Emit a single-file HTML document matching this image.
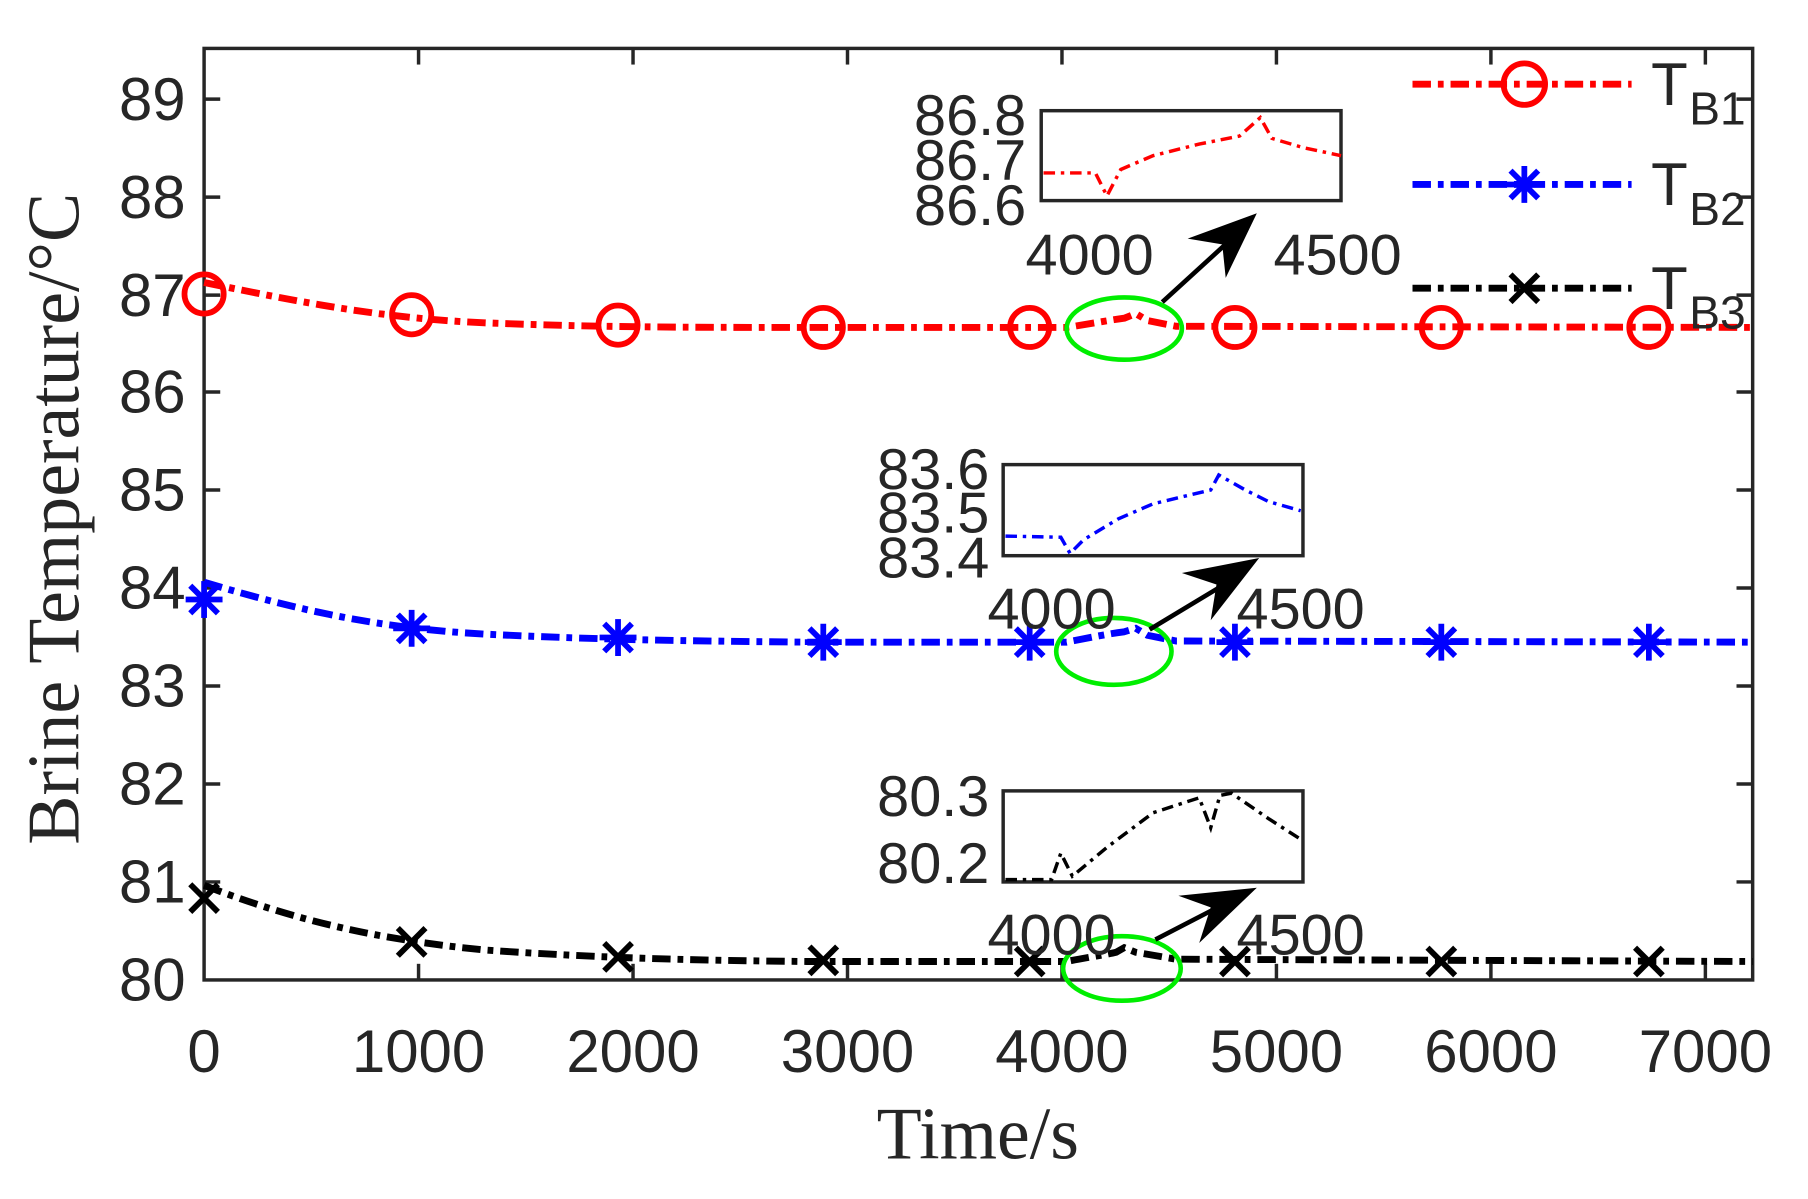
<!DOCTYPE html>
<html><head><meta charset="utf-8"><style>
html,body{margin:0;padding:0;background:#fff;}
svg{display:block;}
text{font-family:"Liberation Sans",sans-serif;fill:#262626;}
.s{font-family:"Liberation Serif",serif;}
</style></head><body>
<svg width="1808" height="1199" viewBox="0 0 1568 1040" preserveAspectRatio="none" xmlns="http://www.w3.org/2000/svg">
<rect width="1568" height="1040" fill="#fff"/>
<rect x="177" y="42" width="1343" height="808" fill="none" stroke="#262626" stroke-width="3"/>
<g stroke="#262626" stroke-width="3">
<line x1="363" y1="850" x2="363" y2="836"/><line x1="549" y1="850" x2="549" y2="836"/><line x1="735" y1="850" x2="735" y2="836"/><line x1="921" y1="850" x2="921" y2="836"/><line x1="1107" y1="850" x2="1107" y2="836"/><line x1="1293" y1="850" x2="1293" y2="836"/><line x1="1479" y1="850" x2="1479" y2="836"/>
<line x1="363" y1="42" x2="363" y2="56"/><line x1="549" y1="42" x2="549" y2="56"/><line x1="735" y1="42" x2="735" y2="56"/><line x1="921" y1="42" x2="921" y2="56"/><line x1="1107" y1="42" x2="1107" y2="56"/><line x1="1293" y1="42" x2="1293" y2="56"/><line x1="1479" y1="42" x2="1479" y2="56"/>
<line x1="177" y1="86" x2="191" y2="86"/><line x1="177" y1="171" x2="191" y2="171"/><line x1="177" y1="256" x2="191" y2="256"/><line x1="177" y1="340" x2="191" y2="340"/><line x1="177" y1="425" x2="191" y2="425"/><line x1="177" y1="510" x2="191" y2="510"/><line x1="177" y1="595" x2="191" y2="595"/><line x1="177" y1="680" x2="191" y2="680"/><line x1="177" y1="765" x2="191" y2="765"/>
<line x1="1520" y1="86" x2="1506" y2="86"/><line x1="1520" y1="171" x2="1506" y2="171"/><line x1="1520" y1="256" x2="1506" y2="256"/><line x1="1520" y1="340" x2="1506" y2="340"/><line x1="1520" y1="425" x2="1506" y2="425"/><line x1="1520" y1="510" x2="1506" y2="510"/><line x1="1520" y1="595" x2="1506" y2="595"/><line x1="1520" y1="680" x2="1506" y2="680"/><line x1="1520" y1="765" x2="1506" y2="765"/>
</g>
<g font-size="52" text-anchor="end">
<text x="161" y="104">89</text><text x="161" y="189">88</text><text x="161" y="274">87</text><text x="161" y="358">86</text><text x="161" y="443">85</text><text x="161" y="528">84</text><text x="161" y="613">83</text><text x="161" y="698">82</text><text x="161" y="783">81</text><text x="161" y="868">80</text>
</g>
<g font-size="52" text-anchor="middle">
<text x="177" y="930">0</text><text x="363" y="930">1000</text><text x="549" y="930">2000</text><text x="735" y="930">3000</text><text x="921" y="930">4000</text><text x="1107" y="930">5000</text><text x="1293" y="930">6000</text><text x="1479" y="930">7000</text>
</g>
<text class="s" x="848" y="1005" font-size="64" text-anchor="middle">Time/s</text>
<text class="s" x="68" y="450" font-size="64" text-anchor="middle" transform="rotate(-90 68 450)">Brine Temperature/°C</text>

<g fill="none" stroke-width="6" stroke-dasharray="16 6 5 6">
<path stroke="#ff0000" d="M177,245 C260,262 330,276 420,280 C520,284 600,284 700,284 L925,284 C945,281 960,278 975,276 L985,272 L995,278 L1020,283 L1520,284"/>
<path stroke="#0000ff" d="M177,505 C260,530 330,545 420,550 C520,555 600,556 700,557 L925,557 C945,553 960,550 975,548 L985,545 L995,551 L1020,556 L1520,557"/>
<path stroke="#000" d="M177,768 C260,800 330,815 420,824 C520,831 600,833 700,834 L925,834 C945,830 960,828 968,826 L975,822 L985,826 L1020,832 L1520,834"/>
</g>
<g fill="none" stroke="#ff0000" stroke-width="5">
<circle cx="177" cy="255" r="17"/><circle cx="357" cy="273" r="17"/><circle cx="536" cy="282" r="17"/><circle cx="714" cy="284" r="17"/><circle cx="893" cy="284" r="17"/><circle cx="1071" cy="284" r="17"/><circle cx="1250" cy="284" r="17"/><circle cx="1430" cy="284" r="17"/>
</g>
<defs>
<g id="ast" stroke="#0000ff" stroke-width="5"><line x1="-16" y1="0" x2="16" y2="0"/><line x1="0" y1="-16" x2="0" y2="16"/><line x1="-12" y1="-12" x2="12" y2="12"/><line x1="-12" y1="12" x2="12" y2="-12"/></g>
<g id="xm" stroke="#000" stroke-width="5"><line x1="-12" y1="-12" x2="12" y2="12"/><line x1="-12" y1="12" x2="12" y2="-12"/></g>
</defs>
<use href="#ast" x="177" y="520"/><use href="#ast" x="357" y="545"/><use href="#ast" x="536" y="553"/><use href="#ast" x="714" y="557"/><use href="#ast" x="893" y="557"/><use href="#ast" x="1071" y="557"/><use href="#ast" x="1250" y="557"/><use href="#ast" x="1430" y="557"/>
<use href="#xm" x="177" y="779"/><use href="#xm" x="357" y="817"/><use href="#xm" x="536" y="830"/><use href="#xm" x="714" y="833"/><use href="#xm" x="893" y="834"/><use href="#xm" x="1071" y="834"/><use href="#xm" x="1250" y="834"/><use href="#xm" x="1430" y="834"/>

<g fill="none" stroke="#00ee00" stroke-width="4">
<ellipse cx="975" cy="285" rx="50" ry="27"/><ellipse cx="966" cy="565" rx="50" ry="29"/><ellipse cx="973" cy="840" rx="51" ry="28"/>
</g>

<g stroke="#000" stroke-width="4">
<line x1="1008" y1="262" x2="1065" y2="210"/><line x1="997" y1="546" x2="1060" y2="508"/><line x1="1002" y1="815" x2="1060" y2="785"/>
</g>
<g fill="#000">
<polygon points="1090,185 1030,207 1060,212 1063,241"/>
<polygon points="1092,484 1025,497 1055,507 1050,538"/>
<polygon points="1090,770 1022,777 1050,787 1040,818"/>
</g>

<rect x="903" y="96" width="260" height="78" fill="#fff" stroke="#262626" stroke-width="3"/>
<path fill="none" stroke="#ff0000" stroke-width="3" stroke-dasharray="10 5 3 5" d="M905,150 L950,150 L960,170 L972,147 L1000,135 L1040,125 L1075,118 L1093,102 L1103,120 L1130,128 L1163,135"/>
<g font-size="50" text-anchor="end"><text x="890" y="117">86.8</text><text x="890" y="156">86.7</text><text x="890" y="195">86.6</text></g>
<g font-size="50" text-anchor="middle"><text x="945" y="238">4000</text><text x="1160" y="238">4500</text></g>

<rect x="870" y="403" width="260" height="79" fill="#fff" stroke="#262626" stroke-width="3"/>
<path fill="none" stroke="#0000ff" stroke-width="3" stroke-dasharray="10 5 3 5" d="M872,465 L920,466 L928,480 L940,468 L970,450 L1000,437 L1050,425 L1057,412 L1080,425 L1100,435 L1128,443"/>
<g font-size="50" text-anchor="end"><text x="858" y="424">83.6</text><text x="858" y="462">83.5</text><text x="858" y="501">83.4</text></g>
<g font-size="50" text-anchor="middle"><text x="912" y="545">4000</text><text x="1128" y="545">4500</text></g>

<rect x="870" y="686" width="260" height="79" fill="#fff" stroke="#262626" stroke-width="3"/>
<path fill="none" stroke="#000" stroke-width="3" stroke-dasharray="10 5 3 5" d="M872,763 L912,763 L920,740 L930,760 L960,735 L1000,705 L1040,692 L1050,718 L1058,690 L1068,688 L1100,710 L1128,728"/>
<g font-size="50" text-anchor="end"><text x="858" y="708">80.3</text><text x="858" y="766">80.2</text></g>
<g font-size="50" text-anchor="middle"><text x="912" y="828">4000</text><text x="1128" y="828">4500</text></g>

<g fill="none" stroke-width="6" stroke-dasharray="16 6 5 6">
<line x1="1225" y1="73" x2="1415" y2="73" stroke="#ff0000"/>
<line x1="1225" y1="160" x2="1415" y2="160" stroke="#0000ff"/>
<line x1="1225" y1="250" x2="1415" y2="250" stroke="#000"/>
</g>
<circle cx="1322" cy="73" r="18" fill="none" stroke="#ff0000" stroke-width="5"/>
<use href="#ast" x="1322" y="160"/>
<use href="#xm" x="1322" y="250"/>
<g font-size="52"><text x="1432" y="91">T</text><text x="1432" y="178">T</text><text x="1432" y="268">T</text></g>
<g font-size="40"><text x="1465" y="108">B1</text><text x="1465" y="195">B2</text><text x="1465" y="285">B3</text></g>
</svg>
</body></html>
